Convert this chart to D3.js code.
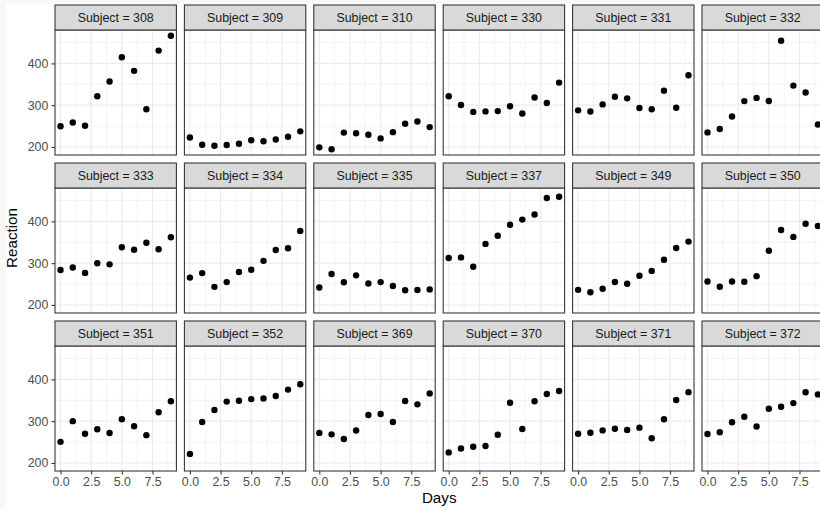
<!DOCTYPE html>
<html><head><meta charset="utf-8">
<script src="https://cdn.jsdelivr.net/npm/d3@7"></script>
<style>
html,body{margin:0;padding:0;background:#f8f8f8;overflow:hidden;}
svg{display:block;}
text{font-family:"Liberation Sans",Arial,sans-serif;}
</style></head>
<body><svg id="c" width="820" height="508"></svg>
<script>
const subjects = ["308","309","310","330","331","332","333","334","335","337","349","350","351","352","369","370","371","372"];
const days = [0,1,2,3,4,5,6,7,8,9];
const r308 = [249.56,258.70,250.80,321.44,356.85,414.69,382.20,290.15,430.59,466.35];
const r309 = [222.73,205.27,202.98,204.71,207.72,215.96,213.63,217.73,224.30,237.31];
const r310 = [199.05,194.33,234.32,232.84,229.31,220.46,235.42,255.75,261.01,247.52];
const r330 = [321.54,300.40,283.86,285.13,285.80,297.59,280.24,318.26,305.35,354.05];
const r331 = [287.61,285.00,301.82,320.12,316.28,293.32,290.08,334.82,293.75,371.58];
const r332 = [234.86,242.81,272.96,309.77,317.46,310.00,454.16,346.83,330.30,253.86];
const r333 = [283.84,289.56,276.77,299.81,297.17,338.17,332.03,348.84,333.36,362.04];
const r334 = [265.47,276.20,243.36,254.67,279.02,284.19,305.52,331.52,335.75,377.30];
const r335 = [241.61,273.95,254.49,270.80,251.45,254.64,245.45,235.31,235.75,237.25];
const r337 = [312.37,313.81,291.61,346.12,365.73,391.84,404.26,416.69,455.86,458.92];
const r349 = [236.10,230.32,238.93,254.92,250.71,269.77,281.56,308.10,336.28,351.65];
const r350 = [256.30,243.45,256.20,255.53,268.92,329.72,379.44,362.92,394.49,389.05];
const r351 = [250.53,300.06,269.89,280.59,271.83,304.63,287.75,266.60,321.54,347.57];
const r352 = [221.68,298.19,326.88,346.86,348.74,352.83,354.43,360.43,375.64,388.54];
const r369 = [271.92,268.44,257.24,277.66,314.82,317.21,298.14,348.12,340.28,366.51];
const r370 = [225.26,234.52,238.90,240.47,267.54,344.19,281.15,347.59,365.16,372.23];
const r371 = [269.88,272.44,277.90,281.79,279.17,284.51,259.27,304.63,350.78,369.47];
const r372 = [269.41,273.47,297.60,310.63,287.17,329.61,334.48,343.22,369.14,364.12];
const reactions = [r308,r309,r310,r330,r331,r332,r333,r334,r335,r337,r349,r350,r351,r352,r369,r370,r371,r372];
const xTicks = [0,2.5,5,7.5];
const xMinor = [1.25,3.75,6.25,8.75];
const yTicks = [200,300,400];
const yMinor = [250,350,450];

const svg = d3.select("#c");
svg.append("rect").attr("x",6).attr("y",4).attr("width",814).attr("height",504).attr("fill","#fff");

const ncol = 6, left = 55, panelW = 121.4, stepX = 129.4;
const top0 = 5, stripH = 25, panelH = 125, stepY = 158;

const allR = reactions.flat();
const yMin = d3.min(allR), yMax = d3.max(allR), yr = yMax - yMin;
const y = d3.scaleLinear().domain([yMin - 0.05*yr, yMax + 0.05*yr]).range([panelH, 0]);
const x = d3.scaleLinear().domain([-0.45, 9.45]).range([0, panelW]);

subjects.forEach((s, i) => {
  const col = i % ncol, row = Math.floor(i / ncol);
  const px = left + col*stepX, sy = top0 + row*stepY, py = sy + stripH;
  const g = svg.append("g").attr("transform", `translate(${px},${py})`);
  g.append("rect").attr("width",panelW).attr("height",panelH).attr("fill","#fff");
  xMinor.forEach(v => g.append("line").attr("x1",x(v)).attr("x2",x(v)).attr("y1",0).attr("y2",panelH).attr("stroke","#ebebeb").attr("stroke-width",0.55));
  yMinor.forEach(v => g.append("line").attr("y1",y(v)).attr("y2",y(v)).attr("x1",0).attr("x2",panelW).attr("stroke","#ebebeb").attr("stroke-width",0.55));
  xTicks.forEach(v => g.append("line").attr("x1",x(v)).attr("x2",x(v)).attr("y1",0).attr("y2",panelH).attr("stroke","#ebebeb").attr("stroke-width",1.1));
  yTicks.forEach(v => g.append("line").attr("y1",y(v)).attr("y2",y(v)).attr("x1",0).attr("x2",panelW).attr("stroke","#ebebeb").attr("stroke-width",1.1));
  g.selectAll("circle").data(days.map((d,j)=>[d, reactions[i][j]])).join("circle")
    .attr("cx",d=>x(d[0])).attr("cy",d=>y(d[1])).attr("r",3.2).attr("fill","#000");
  g.append("rect").attr("width",panelW).attr("height",panelH).attr("fill","none").attr("stroke","#333").attr("stroke-width",1.07);
  // strip
  const st = svg.append("g").attr("transform", `translate(${px},${sy})`);
  st.append("rect").attr("width",panelW).attr("height",stripH).attr("fill","#d9d9d9").attr("stroke","#333").attr("stroke-width",1.07);
  st.append("text").attr("x",panelW/2).attr("y",stripH/2+4.3).attr("text-anchor","middle").attr("font-size",12.4).attr("fill","#1a1a1a").text("Subject = " + s);
  // axes
  if (col === 0) {
    const ya = svg.append("g").attr("transform", `translate(${px},${py})`)
      .call(d3.axisLeft(y).tickValues(yTicks).tickSize(3.6).tickPadding(3).tickFormat(d3.format("d")));
    ya.select(".domain").remove();
    ya.selectAll("line").attr("stroke","#333").attr("stroke-width",1.07);
    ya.selectAll("text").attr("font-size",12.4).attr("fill","#4d4d4d").attr("font-family","Liberation Sans, Arial, sans-serif");
  }
  if (row === 2) {
    const xa = svg.append("g").attr("transform", `translate(${px},${py+panelH})`)
      .call(d3.axisBottom(x).tickValues(xTicks).tickSize(3.6).tickPadding(2.5).tickFormat(d3.format(".1f")));
    xa.select(".domain").remove();
    xa.selectAll("line").attr("stroke","#333").attr("stroke-width",1.07);
    xa.selectAll("text").attr("font-size",12.4).attr("fill","#4d4d4d").attr("font-family","Liberation Sans, Arial, sans-serif");
  }
});

const totalW = (ncol-1)*stepX + panelW;
svg.append("text").attr("x", left + totalW/2).attr("y", 503).attr("text-anchor","middle").attr("font-size",15.2).attr("fill","#000").text("Days");
const midY = (top0 + 2*stepY + stripH + panelH + top0) / 2;
svg.append("text").attr("transform", `translate(17,${midY}) rotate(-90)`).attr("text-anchor","middle").attr("font-size",15.2).attr("fill","#000").text("Reaction");
</script></body></html>
